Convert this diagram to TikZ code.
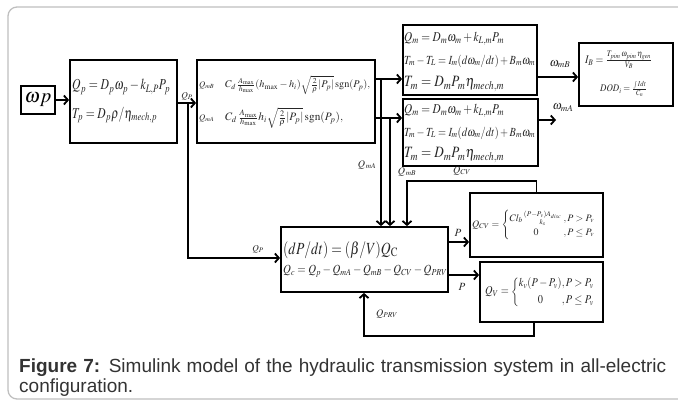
\documentclass[tikz,border=0pt]{standalone}
\usepackage{amsmath}
\usepackage{mathptmx}
\usepackage{fontspec}
\setmainfont{Liberation Serif}
\newfontfamily\capfont{Liberation Sans}
\usepackage{graphicx}
\usetikzlibrary{arrows.meta}
\newcommand{\fw}[2]{\resizebox{#1pt}{!}{$#2$}}
\newcommand{\fws}[3]{\scalebox{1}[#2]{\resizebox{#1pt}{!}{$#3$}}}
\begin{document}
\begin{tikzpicture}[x=1pt,y=-1pt,
  blk/.style={draw, line width=1.8pt, inner sep=0pt},
  arr/.style={line width=1.8pt, -{Straight Barb[length=4pt,width=9pt]}},
  eq/.style={anchor=west, inner sep=0pt, text=black!85},
  lbl/.style={inner sep=0pt, text=black!85, font=\fontsize{10}{10}\selectfont}]
\useasboundingbox (0,0) rectangle (678,401);
\clip (0,0) rectangle (678,401);
\draw[black!25, line width=1.3pt, rounded corners=9pt] (8,7) rectangle (700,399);

% blocks
\node[blk, minimum width=34pt, minimum height=28pt] (wp) at (38,100) {};
\node[inner sep=0pt, font=\fontsize{20}{20}\selectfont] (wpt) at (38,100) {$\omega p$};
\node[blk, minimum width=107pt, minimum height=83pt] (pump) at (123.5,101.5) {};
\node[blk, minimum width=178pt, minimum height=83pt] (valve) at (286,101.5) {};
\node[blk, minimum width=134pt, minimum height=70pt] (mB) at (470,60) {};
\node[blk, minimum width=135pt, minimum height=67pt] (mA) at (470.5,132.5) {};
\node[blk, minimum width=94pt, minimum height=63pt] (batt) at (626,74.5) {};
\node[blk, minimum width=167pt, minimum height=65pt] (ch) at (364.5,259.5) {};
\node[blk, minimum width=133pt, minimum height=64pt] (qcv) at (536.5,225) {};
\node[blk, minimum width=123pt, minimum height=60pt] (qv) at (541.5,292) {};

% block texts
\node[eq] (p1) at (72,87) {\fws{98}{1.3}{Q_p = D_p\omega_p - k_{L,P}P_p}};
\node[eq] (p2) at (72,115) {\fws{85}{1.3}{T_p = D_p\rho/\eta_{mech,p}}};

\node[eq] (v0a) at (199,85) {\fw{15}{Q_{mB}}};
\node[eq] (v0b) at (199,118) {\fw{15}{Q_{mA}}};
\node[eq] (v1) at (225,85) {\fw{145}{C_d\,\frac{A_{\max}}{h_{\max}}(h_{\max}-h_i)\sqrt{\frac{2}{\rho}|P_p|}\,\mathrm{sgn}(P_p),}};
\node[eq] (v2) at (225,118) {\fw{118}{C_d\,\frac{A_{\max}}{h_{\max}}h_i\sqrt{\frac{2}{\rho}|P_p|}\,\mathrm{sgn}(P_p),}};

\node[eq] (b1) at (404,39) {\fws{100}{1.2}{Q_m = D_m\omega_m + k_{L,m}P_m}};
\node[eq] (b2) at (404,61) {\fws{131}{1.2}{T_m - T_L = I_m(d\omega_m/dt) + B_m\omega_m}};
\node[eq] (b3) at (404,84) {\fws{100}{1.2}{T_m = D_mP_m\eta_{mech,m}}};

\node[eq] (a1) at (404,111) {\fws{100}{1.2}{Q_m = D_m\omega_m + k_{L,m}P_m}};
\node[eq] (a2) at (404,133) {\fws{131}{1.2}{T_m - T_L = I_m(d\omega_m/dt) + B_m\omega_m}};
\node[eq] (a3) at (404,155) {\fws{100}{1.2}{T_m = D_mP_m\eta_{mech,m}}};

\node[eq] (e1) at (585,60) {\fws{67}{1.15}{I_B = \frac{T_{pim}\,\omega_{pim}\,\eta_{gen}}{V_B}}};
\node[eq] (e2) at (600,89) {\fws{47}{1.15}{DOD_i = \frac{\int I dt}{C_n}}};

\node[eq] (c1) at (283,250) {\fws{115}{1.25}{(dP/dt) = (\beta/V)Q_{\mathrm{C}}}};
\node[eq] (c2) at (283,271) {\fws{164}{1.15}{Q_c = Q_p - Q_{mA} - Q_{mB} - Q_{CV} - Q_{PRV}}};

\node[eq] (cv) at (472,225) {\fw{128}{Q_{CV} = \left\{\begin{array}{@{}c@{\,}l} Cl_b\genfrac{}{}{0pt}{}{(P-P_v)A_{disc}}{k_s} & ,P>P_v\\[2pt] 0 & ,P\le P_v\end{array}\right.}};
\node[eq] (vv) at (485,292) {\fws{115}{1.15}{Q_V = \left\{\begin{array}{@{}c@{}l} k_v(P-P_v) & ,P>P_v\\[2pt] 0 & ,P\le P_v\end{array}\right.}};

% connectors
\coordinate (j1) at (188,103);
\coordinate (jb) at (381,79);
\coordinate (ja) at (390,118);
\coordinate (ob) at (0,77);
\coordinate (cvk) at (407,181);
\coordinate (oa) at (556,120);
\coordinate (pc) at (0,242);
\coordinate (pv) at (0,275);
\coordinate (lr) at (534,336);
\coordinate (ll) at (364,336);

\draw[arr] (wp.east) -- (pump.west |- wp.east);
\draw[arr] (pump.east |- j1) -- (valve.west |- j1);
\draw[arr] (j1) |- (ch.west |- 0,258);
\draw[arr] (valve.east |- jb) -- (mB.west |- jb);
\draw[arr] (valve.east |- ja) -- (mA.west |- ja);
\draw[arr] (jb) -- (jb |- ch.north);
\draw[arr] (ja) -- (ja |- ch.north);
\draw[arr] (qcv.north) |- (cvk) -- (cvk |- ch.north);
\draw[arr] (mB.east |- ob) -- (batt.west |- ob);
\draw[arr] (mA.east |- oa) -- (oa);
\draw[arr] (ch.east |- pc) -- (qcv.west |- pc);
\draw[arr] (ch.east |- pv) -- (qv.west |- pv);
\draw[arr] (qv.south -| lr) -- (lr) -- (ll) -- (ll |- ch.south);

% labels
\node[lbl, font=\fontsize{9}{9}\selectfont] (lqp) at (187,96) {$Q_P$};
\node[lbl, font=\fontsize{9}{9}\selectfont] (lqp2) at (258,249) {$Q_P$};
\node[lbl] (lqma) at (367,165) {$Q_{\,mA}$};
\node[lbl] (lqmb) at (407,172) {$Q_{\,mB}$};
\node[lbl] (lqcv) at (462,171) {$Q_{CV}$};
\node[lbl, font=\fontsize{11}{11}\selectfont] (lp1) at (458,233) {$P$};
\node[lbl, font=\fontsize{11}{11}\selectfont] (lp2) at (462,287) {$P$};
\node[lbl] (lprv) at (387,314) {$Q_{PRV}$};
\node[lbl, font=\fontsize{12}{12}\selectfont] (lwb) at (560,64) {$\omega_{mB}$};
\node[lbl, font=\fontsize{12}{12}\selectfont] (lwa) at (563,108) {$\omega_{mA}$};

% caption
\node[anchor=base west, inner sep=0pt, text=black!80, font=\capfont\fontsize{19}{19}\selectfont] (cap1) at (19,372)
  {\makebox[647pt][s]{\textbf{Figure 7:} Simulink model of the hydraulic transmission system in all-electric}};
\node[anchor=base west, inner sep=0pt, text=black!80, font=\capfont\fontsize{19}{19}\selectfont] (cap2) at (19,392)
  {configuration.};
\end{tikzpicture}
\end{document}
